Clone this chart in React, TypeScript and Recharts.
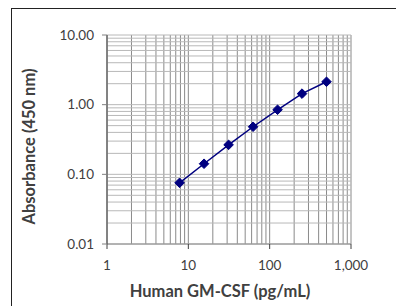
import React from 'react';
import { LineChart, Line, XAxis, YAxis, CartesianGrid, Label } from 'recharts';

const concentrations = [7.8, 15.6, 31.25, 62.5, 125, 250, 500];
const absorbance = [0.0755, 0.142, 0.265, 0.482, 0.845, 1.44, 2.13];

const xMajorTicks = [1, 10, 100, 1000];
const yMajorTicks = [0.01, 0.1, 1, 10];
const xGridTicks = [1, 2, 3, 4, 5, 6, 7, 8, 9, 10, 20, 30, 40, 50, 60, 70, 80, 90, 100, 200, 300, 400, 500, 600, 700, 800, 900, 1000];
const yGridTicks = [0.01, 0.02, 0.03, 0.04, 0.05, 0.06, 0.07, 0.08, 0.09, 0.1, 0.2, 0.3, 0.4, 0.5, 0.6, 0.7, 0.8, 0.9, 1, 2, 3, 4, 5, 6, 7, 8, 9, 10];

const data = concentrations.map((c, i) => ({ x: c, y: absorbance[i] }));

const FONT = 'Lato, "Open Sans", sans-serif';
const TEXT = '#404040';

const isMajor = (v: number, majors: number[]) => majors.some((m) => Math.abs(m - v) < 1e-9);

const XTick = (props: any) => {
  const { x, y, payload } = props;
  if (!isMajor(payload.value, xMajorTicks)) return null;
  return (
    <g>
      <line x1={x} x2={x} y1={y} y2={y + 5} stroke="#404040" strokeWidth={1} />
      <text x={x} y={y + 26} textAnchor="middle" fontFamily={FONT} fontSize={13.5} fill={TEXT}>
        {payload.value.toLocaleString('en-US')}
      </text>
    </g>
  );
};

const YTick = (props: any) => {
  const { x, y, payload } = props;
  if (!isMajor(payload.value, yMajorTicks)) return null;
  return (
    <g>
      <line x1={x - 5} x2={x} y1={y} y2={y} stroke="#808080" strokeWidth={1} />
      <text x={x - 13} y={y + 4.5} textAnchor="end" fontFamily={FONT} fontSize={13.5} fill={TEXT}>
        {payload.value.toFixed(2)}
      </text>
    </g>
  );
};

const Diamond = (props: any) => {
  const { cx, cy } = props;
  if (cx == null || cy == null) return null;
  const r = 4.8;
  return (
    <polygon
      points={`${cx},${cy - r} ${cx + r},${cy} ${cx},${cy + r} ${cx - r},${cy}`}
      fill="#000080"
      stroke="#000080"
      strokeWidth={1}
    />
  );
};

export default function App() {
  return (
    <div style={{ position: 'absolute', left: 0, top: 0, width: 396, height: 306, background: '#fff', overflow: 'hidden' }}>
      <div
        style={{
          position: 'absolute',
          left: 11,
          top: 8,
          width: 420,
          height: 320,
          border: '1.5px solid #222',
          boxSizing: 'border-box',
        }}
      />
      <div style={{ position: 'absolute', left: 0, top: 0 }}>
        <LineChart width={396} height={306} data={data} margin={{ top: 35, right: 45, bottom: 0, left: 0 }}>
          <CartesianGrid horizontal={false} stroke="#8a8a8a" strokeWidth={1} />
          <CartesianGrid vertical={false} stroke="#b8b8b8" strokeWidth={1} />
          <XAxis
            dataKey="x"
            type="number"
            scale="log"
            domain={[1, 1000]}
            ticks={xGridTicks}
            interval={0}
            allowDataOverflow
            height={62}
            tickSize={0}
            tickMargin={0}
            tick={<XTick />}
            axisLine={{ stroke: '#8a8a8a', strokeWidth: 1 }}
          >
            <Label
              value="Human GM-CSF (pg/mL)"
              position="center"
              dx={-9}
              dy={16}
              style={{ fontFamily: FONT, fontSize: 16.5, fontWeight: 700, fill: TEXT }}
            />
          </XAxis>
          <YAxis
            dataKey="y"
            type="number"
            scale="log"
            domain={[0.01, 10]}
            ticks={yGridTicks}
            interval={0}
            allowDataOverflow
            width={107}
            tickSize={0}
            tickMargin={0}
            tick={<YTick />}
            axisLine={{ stroke: '#404040', strokeWidth: 1 }}
          >
            <Label
              value="Absorbance (450 nm)"
              position="center"
              angle={-90}
              dx={-24.5}
              dy={7}
              style={{ fontFamily: FONT, fontSize: 16.5, fontWeight: 700, fill: TEXT, textAnchor: 'middle' }}
            />
          </YAxis>
          <Line
            type="linear"
            dataKey="y"
            stroke="#000080"
            strokeWidth={1.5}
            dot={<Diamond />}
            activeDot={false}
            isAnimationActive={false}
          />
        </LineChart>
      </div>
    </div>
  );
}
